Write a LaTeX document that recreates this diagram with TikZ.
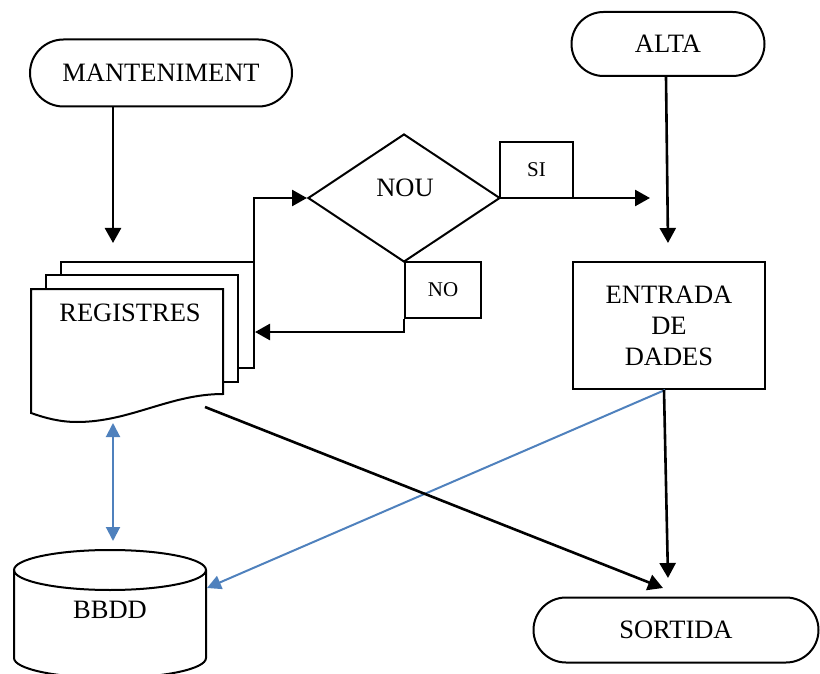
\documentclass[tikz,border=0pt]{standalone}
\usepackage{fontspec}
\setmainfont{Liberation Serif}
\usetikzlibrary{arrows.meta,shapes.misc,shapes.geometric}
\definecolor{dbblue}{RGB}{79,129,189}
\tikzset{
  term/.style={rounded rectangle,draw,line width=2pt,inner sep=0pt,font=\fontsize{26.5}{31}\selectfont},
  boxed/.style={rectangle,draw,line width=2pt,inner sep=0pt,font=\fontsize{26.5}{31}\selectfont,align=center},
  smallbox/.style={rectangle,draw,line width=2pt,inner sep=0pt,font=\fontsize{21}{25}\selectfont},
  page/.style={draw,line width=2pt,fill=white},
  arr/.style={line width=2.6pt,-{Triangle[length=15pt,width=16pt]}},
  barr/.style={line width=2pt,draw=dbblue,-{Triangle[length=14pt,width=14pt]}},
  dbarr/.style={line width=2pt,draw=dbblue,{Triangle[length=14pt,width=14pt]}-{Triangle[length=14pt,width=14pt]}},
  lbl/.style={font=\fontsize{26.5}{31}\selectfont,inner sep=0pt}
}
\begin{document}
\begin{tikzpicture}[x=1pt,y=-1pt]
\useasboundingbox (0,0) rectangle (820,674);
% terminators
\node[term,minimum width=262pt,minimum height=67pt] (mant) at (161,73) {MANTENIMENT};
\node[term,minimum width=193pt,minimum height=64pt] (alta) at (668,44) {ALTA};
\node[term,minimum width=285pt,minimum height=65pt] (sortida) at (676,630) {SORTIDA};
% decision
\node[diamond,draw,line width=2pt,minimum width=192pt,minimum height=128pt,inner sep=0pt] (nou) at (404,198) {};
\node[lbl] (noutxt) at (405,188) {NOU};
\node[smallbox,minimum width=73pt,minimum height=56pt] (si) at (536.5,170) {SI};
\node[smallbox,minimum width=76pt,minimum height=56pt] (no) at (443,290) {NO};
% process
\node[boxed,minimum width=192pt,minimum height=127pt] (entrada) at (669,325.5) {ENTRADA\\DE\\DADES};
% multi-document
\draw[page] (61,262) rectangle (254,368);
\draw[page] (46,275) rectangle (238,382);
\draw[page] (31,289) -- (223,289) -- (223,394) .. controls (170,394) and (130,422) .. (77,422) .. controls (60,422) and (45,418) .. (31,413) -- cycle;
\node[lbl] (reg) at (130,313) {REGISTRES};
% database cylinder
\draw[line width=2pt,fill=white] (14,570) -- (14,658) arc[start angle=180,end angle=360,x radius=96,y radius=-20] -- (206,570);
\draw[line width=2pt] (110,570) ellipse[x radius=96,y radius=20];
\node[lbl] (bbdd) at (110,610) {BBDD};
% named connector ends
\coordinate (regin) at (113,243);
\coordinate (regout) at (254,300);
\coordinate (regback) at (255,332);
\coordinate (siend) at (650,198);
\coordinate (entin) at (668,243);
\coordinate (regbot) at (113,423);
\coordinate (dbtop) at (113,541);
\coordinate (dbright) at (207,588);
\coordinate (regwave) at (205,407);
\coordinate (sortin1) at (663,588);
\coordinate (sortin2) at (668,578);
% connectors
\draw[arr] (mant.south -| regin) -- (regin);
\draw[arr] ([xshift=-2pt]alta.south) -- (entin);
\draw[arr] (regout) |- (nou.west);
\draw[arr] (nou.east) -- (siend);
\draw[arr] (no.south west) |- (regback);
\draw[dbarr] (regbot) -- (dbtop);
\draw[barr] ([xshift=-4pt]entrada.south) -- (dbright);
\draw[arr] (regwave) -- (sortin1);
\draw[arr] ([xshift=-5pt]entrada.south) -- (sortin2);
\end{tikzpicture}
\end{document}
